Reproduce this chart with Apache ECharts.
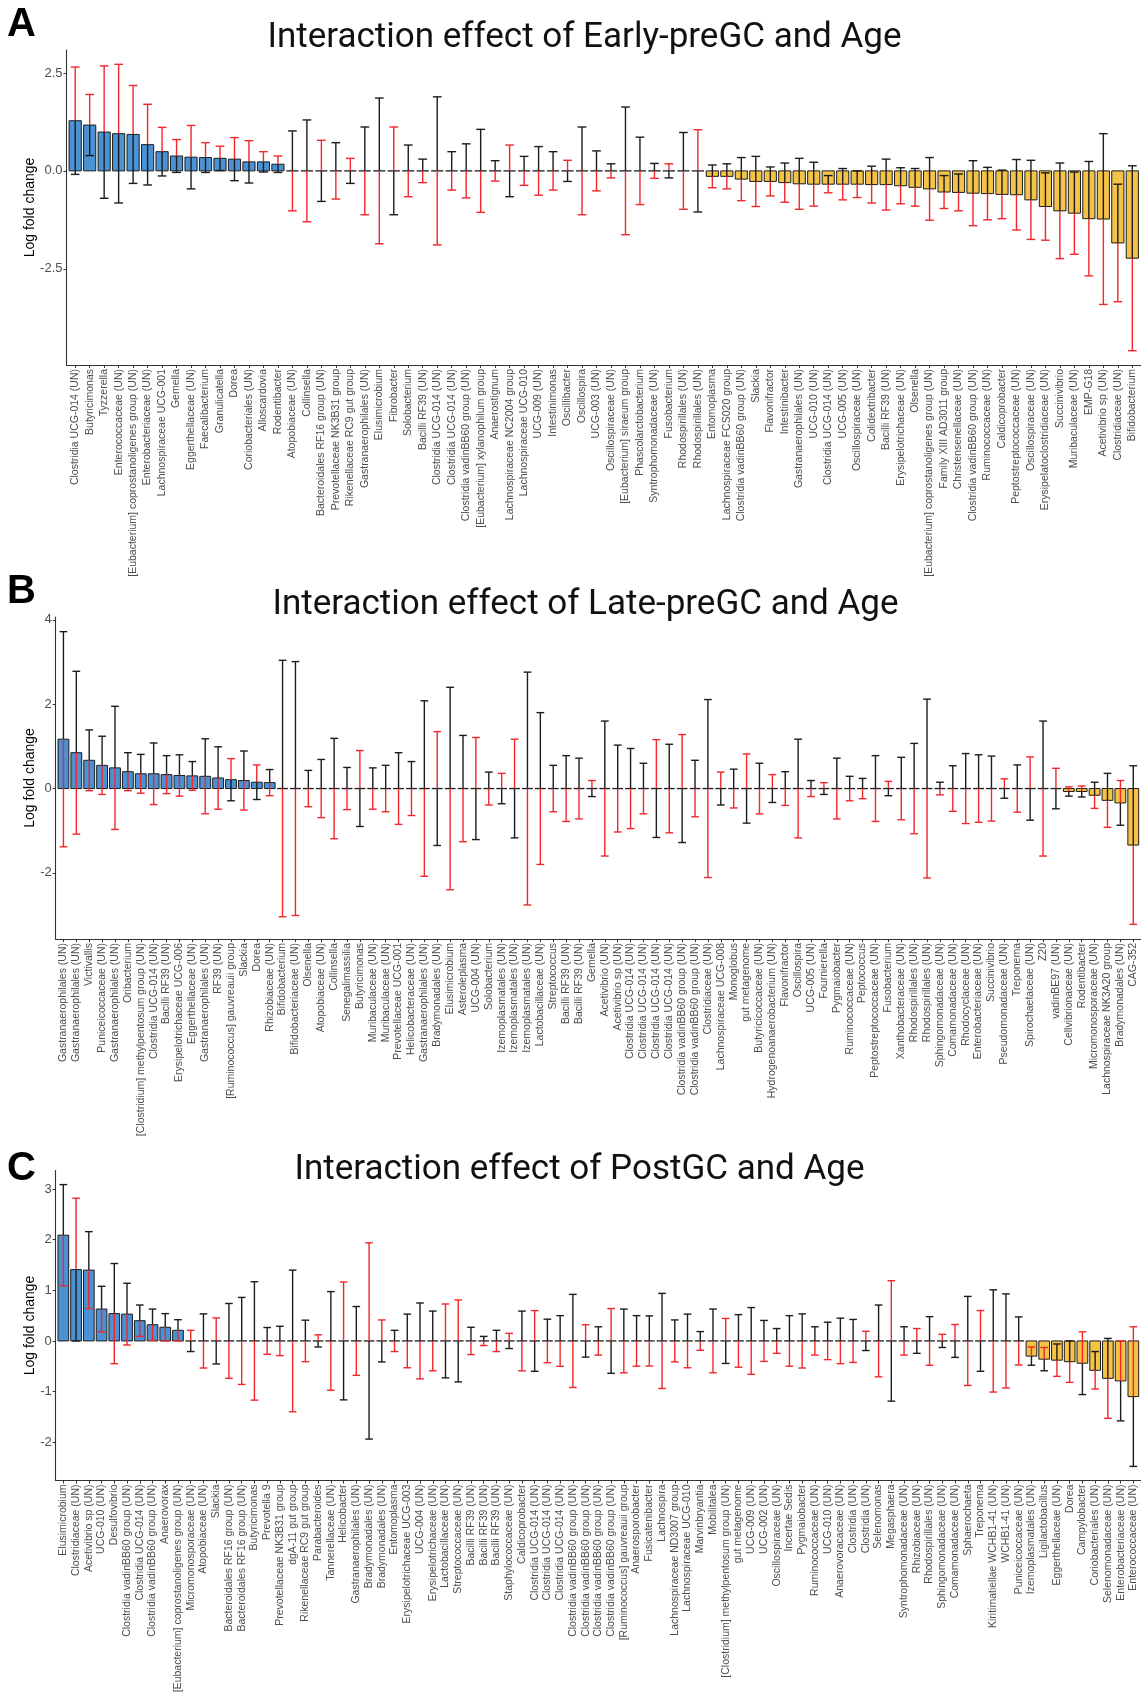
<!DOCTYPE html>
<html>
<head>
<meta charset="utf-8">
<script src="https://cdn.jsdelivr.net/npm/echarts@6/dist/echarts.min.js"></script>
<style>
  html, body { margin: 0; padding: 0; background: #ffffff; }
  #chart { width: 1141px; height: 1706px; }
</style>
</head>
<body>
<div id="chart"></div>
<script>
// ---------- Panel A: Early-preGC x Age ----------
const namesA = ["Clostridia UCG-014 (UN)","Butyricimonas","Tyzzerella","Enterococcaceae (UN)","[Eubacterium] coprostanoligenes group (UN)","Enterobacteriaceae (UN)","Lachnospiraceae UCG-001","Gemella","Eggerthellaceae (UN)","Faecalibacterium","Granulicatella","Dorea","Coriobacteriales (UN)","Alloscardovia","Rodentibacter","Atopobiaceae (UN)","Collinsella","Bacteroidales RF16 group (UN)","Prevotellaceae NK3B31 group","Rikenellaceae RC9 gut group","Gastranaerophilales (UN)","Elusimicrobium","Fibrobacter","Solobacterium","Bacilli RF39 (UN)","Clostridia UCG-014 (UN)","Clostridia UCG-014 (UN)","Clostridia vadinBB60 group (UN)","[Eubacterium] xylanophilum group","Anaerostignum","Lachnospiraceae NC2004 group","Lachnospiraceae UCG-010","UCG-009 (UN)","Intestinimonas","Oscillibacter","Oscillospira","UCG-003 (UN)","Oscillospiraceae (UN)","[Eubacterium] siraeum group","Phascolarctobacterium","Syntrophomonadaceae (UN)","Fusobacterium","Rhodospirillales (UN)","Rhodospirillales (UN)","Entomoplasma","Lachnospiraceae FCS020 group","Clostridia vadinBB60 group (UN)","Slackia","Flavonifractor","Intestinibacter","Gastranaerophilales (UN)","UCG-010 (UN)","Clostridia UCG-014 (UN)","UCG-005 (UN)","Oscillospiraceae (UN)","Colidextribacter","Bacilli RF39 (UN)","Erysipelotrichaceae (UN)","Olsenella","[Eubacterium] coprostanoligenes group (UN)","Family XIII AD3011 group","Christensenellaceae (UN)","Clostridia vadinBB60 group (UN)","Ruminococcaceae (UN)","Caldicoprobacter","Peptostreptococcaceae (UN)","Oscillospiraceae (UN)","Erysipelatoclostridiaceae (UN)","Succinivibrio","Muribaculaceae (UN)","EMP-G18","Acetivibrio sp (UN)","Clostridiaceae (UN)","Bifidobacterium"];
const lfcA = [1.28,1.17,0.99,0.95,0.93,0.67,0.49,0.38,0.35,0.34,0.32,0.30,0.23,0.23,0.17,
  0,0,0,0,0,0,0,0,0,0, 0,0,0,0,0,0,0,0,0,0, 0,0,0,0,0,0,0,0,0,
  -0.14,-0.14,-0.21,-0.27,-0.27,-0.30,-0.33,-0.34,-0.34,-0.34,-0.34,-0.35,-0.35,-0.38,-0.42,
  -0.46,-0.54,-0.55,-0.57,-0.58,-0.60,-0.61,-0.74,-0.91,-1.02,-1.08,-1.22,-1.23,-1.84,-2.23];
const ciA = [1.37,0.78,1.69,1.77,1.25,1.03,0.62,0.42,0.81,0.38,0.31,0.55,0.54,0.26,0.21,
  1.02,1.30,0.78,0.72,0.32,1.12,1.86,1.12,0.66,0.30,1.89,0.49,0.69,1.06,0.26,0.66,0.37,0.62,0.49,0.27,1.12,0.51,0.18,1.63,0.86,0.19,0.18,0.98,1.05,
  0.29,0.32,0.55,0.64,0.37,0.50,0.65,0.56,0.22,0.40,0.34,0.47,0.65,0.46,0.48,0.80,0.42,0.47,0.83,0.67,0.62,0.90,1.01,0.86,1.22,1.05,1.46,2.18,1.50,2.36];
const upperRedA = [1,1,1,1,1,1,1,1,1,1,1,1,1,1,1,
  0,0,1,0,1,0,0,1,0,0,0,0,0,0,0,1,0,0,0,1,0,0,0,0,0,0,1,0,1,
  0,0,0,0,0,0,0,0,0,0,0,0,0,0,0,0,0,0,0,0,0,0,0,0,0,0,0,0,0,0];
const ticksA = [-2.5, 0, 2.5];

// ---------- Panel B: Late-preGC x Age ----------
const namesB = ["Gastranaerophilales (UN)","Gastranaerophilales (UN)","Victivallis","Puniceicoccaceae (UN)","Gastranaerophilales (UN)","Oribacterium","[Clostridium] methylpentosum group (UN)","Clostridia UCG-014 (UN)","Bacilli RF39 (UN)","Erysipelotrichaceae UCG-006","Eggerthellaceae (UN)","Gastranaerophilales (UN)","RF39 (UN)","[Ruminococcus] gauvreauii group","Slackia","Dorea","Rhizobiaceae (UN)","Bifidobacterium","Bifidobacteriaceae (UN)","Olsenella","Atopobiaceae (UN)","Collinsella","Senegalimassilia","Butyricimonas","Muribaculaceae (UN)","Muribaculaceae (UN)","Prevotellaceae UCG-001","Helicobacteraceae (UN)","Gastranaerophilales (UN)","Bradymonadales (UN)","Elusimicrobium","Asteroleplasma","UCG-004 (UN)","Solobacterium","Izemoplasmatales (UN)","Izemoplasmatales (UN)","Izemoplasmatales (UN)","Lactobacillaceae (UN)","Streptococcus","Bacilli RF39 (UN)","Bacilli RF39 (UN)","Gemella","Acetivibrio (UN)","Acetivibrio sp (UN)","Clostridia UCG-014 (UN)","Clostridia UCG-014 (UN)","Clostridia UCG-014 (UN)","Clostridia UCG-014 (UN)","Clostridia vadinBB60 group (UN)","Clostridia vadinBB60 group (UN)","Clostridiaceae (UN)","Lachnospiraceae UCG-008","Monoglobus","gut metagenome","Butyricicoccaceae (UN)","Hydrogenoanaerobacterium (UN)","Flavonifractor","Oscillospira","UCG-005 (UN)","Fournierella","Pygmaiobacter","Ruminococcaceae (UN)","Peptococcus","Peptostreptococcaceae (UN)","Fusobacterium","Xanthobacteraceae (UN)","Rhodospirillales (UN)","Rhodospirillales (UN)","Sphingomonadaceae (UN)","Comamonadaceae (UN)","Rhodocyclaceae (UN)","Enterobacteriaceae (UN)","Succinivibrio","Pseudomonadaceae (UN)","Treponema","Spirochaetaceae (UN)","Z20","vadinBE97 (UN)","Cellvibrionaceae (UN)","Rodentibacter","Micromonosporaceae (UN)","Lachnospiraceae NK3A20 group","Bradymonadales (UN)","CAG-352"];
const lfcB = [1.17,0.85,0.67,0.55,0.49,0.40,0.35,0.35,0.33,0.31,0.30,0.29,0.25,0.21,0.19,0.15,0.14,
  0,0,0,0,0,0,0,0,0,0, 0,0,0,0,0,0,0,0,0,0, 0,0,0,0,0,0,0,0,0,0,
  0,0,0,0,0,0,0,0,0,0, 0,0,0,0,0,0,0,0,0,0, 0,0,0,0,0,0,0,0,0,0, 0,
  -0.07,-0.07,-0.16,-0.28,-0.34,-1.34];
const ciB = [2.55,1.93,0.72,0.69,1.46,0.45,0.46,0.73,0.45,0.49,0.34,0.89,0.74,0.50,0.70,0.41,0.31,
  3.04,3.01,0.43,0.69,1.19,0.50,0.90,0.49,0.55,0.85,
  0.64,2.08,1.35,2.40,1.26,1.21,0.39,0.36,1.17,2.76,
  1.80,0.55,0.78,0.72,0.19,1.60,1.03,0.95,0.60,1.16,
  1.05,1.28,0.67,2.11,0.39,0.46,0.82,0.60,0.33,0.40,
  1.17,0.19,0.14,0.72,0.29,0.24,0.78,0.17,0.74,1.07,
  2.12,0.15,0.54,0.83,0.80,0.77,0.23,0.56,0.75,1.60,
  0.48,
  0.11,0.13,0.31,0.64,0.53,1.88];
const upperRedB = [0,0,0,0,0,0,0,0,0,0,0,0,0,1,0,1,0,
  0,0,0,0,0,0,1,0,0,0,
  0,0,1,0,0,1,0,1,1,0,
  0,0,0,0,1,0,0,0,0,1,
  0,1,0,0,1,0,1,0,1,0,
  0,0,1,0,0,0,0,1,0,0,
  0,0,0,0,0,0,1,0,1,0,
  1,
  1,1,0,0,1,0];
const ticksB = [-2, 0, 2, 4];

// ---------- Panel C: PostGC x Age ----------
const namesC = ["Elusimicrobium","Clostridiaceae (UN)","Acetivibrio sp (UN)","UCG-010 (UN)","Desulfovibrio","Clostridia vadinBB60 group (UN)","Clostridia UCG-014 (UN)","Clostridia vadinBB60 group (UN)","Anaerovorax","[Eubacterium] coprostanoligenes group (UN)","Micromonosporaceae (UN)","Atopobiaceae (UN)","Slackia","Bacteroidales RF16 group (UN)","Bacteroidales RF16 group (UN)","Butyricimonas","Prevotella 9","Prevotellaceae NK3B31 group","dgA-11 gut group","Rikenellaceae RC9 gut group","Parabacteroides","Tannerellaceae (UN)","Helicobacter","Gastranaerophilales (UN)","Bradymonadales (UN)","Bradymonadales (UN)","Entomoplasma","Erysipelotrichaceae UCG-003","UCG-004 (UN)","Erysipelotrichaceae (UN)","Lactobacillaceae (UN)","Streptococcaceae (UN)","Bacilli RF39 (UN)","Bacilli RF39 (UN)","Bacilli RF39 (UN)","Staphylococcaceae (UN)","Caldicoprobacter","Clostridia UCG-014 (UN)","Clostridia UCG-014 (UN)","Clostridia UCG-014 (UN)","Clostridia vadinBB60 group (UN)","Clostridia vadinBB60 group (UN)","Clostridia vadinBB60 group (UN)","Clostridia vadinBB60 group (UN)","[Ruminococcus] gauvreauii group","Anaerosporobacter","Fusicatenibacter","Lachnospira","Lachnospiraceae ND3007 group","Lachnospiraceae UCG-010","Marvinbryantia","Mobilitalea","[Clostridium] methylpentosum group (UN)","gut metagenome","UCG-009 (UN)","UCG-002 (UN)","Oscillospiraceae (UN)","Incertae Sedis","Pygmaiobacter","Ruminococcaceae (UN)","UCG-010 (UN)","Anaerovoracaceae (UN)","Clostridia (UN)","Clostridia (UN)","Selenomonas","Megasphaera","Syntrophomonadaceae (UN)","Rhizobiaceae (UN)","Rhodospirillales (UN)","Sphingomonadaceae (UN)","Comamonadaceae (UN)","Sphaerochaeta","Treponema","Kiritimatiellae WCHB1-41 (UN)","WCHB1-41 (UN)","Puniceicoccaceae (UN)","Izemoplasmatales (UN)","Ligilactobacillus","Eggerthellaceae (UN)","Dorea","Campylobacter","Coriobacteriales (UN)","Selenomonadaceae (UN)","Enterobacteriaceae (UN)","Enterococcaceae (UN)"];
const lfcC = [2.09,1.41,1.40,0.63,0.54,0.53,0.40,0.32,0.27,0.21,
  0,0,0,0,0,0,0,0,0,0, 0,0,0,0,0,0,0,0,0,0, 0,0,0,0,0,0,0,0,0,0,
  0,0,0,0,0,0,0,0,0,0, 0,0,0,0,0,0,0,0,0,0, 0,0,0,0,0,0,0,0,0,0,
  0,0,0,0,0,0,
  -0.30,-0.36,-0.38,-0.41,-0.44,-0.58,-0.74,-0.79,-1.10];
const ciC = [1.00,1.41,0.76,0.45,0.99,0.61,0.31,0.31,0.27,0.21,
  0.21,0.535,0.455,0.74,0.86,1.17,0.265,0.29,1.40,0.41,
  0.12,0.975,1.165,0.68,1.94,0.415,0.21,0.53,0.75,0.59,
  0.73,0.81,0.27,0.09,0.21,0.15,0.59,0.60,0.43,0.50,
  0.92,0.32,0.28,0.64,0.63,0.50,0.495,0.94,0.415,0.53,
  0.185,0.63,0.445,0.52,0.66,0.405,0.245,0.50,0.535,0.28,
  0.37,0.45,0.425,0.19,0.71,1.19,0.28,0.245,0.48,0.13,
  0.325,0.88,0.60,1.01,0.93,0.475,
  0.18,0.23,0.32,0.41,0.62,0.37,0.79,0.79,1.38];
const upperRedC = [0,1,0,0,0,0,0,0,0,0,
  1,0,1,0,0,0,0,0,0,0,
  1,0,1,0,1,1,0,0,0,0,
  1,1,0,0,0,1,0,1,0,0,
  0,1,0,1,0,0,0,0,0,0,
  0,0,1,0,0,0,0,0,0,0,
  0,0,0,1,0,1,0,1,0,1,
  1,0,1,0,0,0,
  1,1,0,0,1,0,0,1,1];
const ticksC = [-2, -1, 0, 1, 2, 3];

// ---------- styling ----------
const BLUE = '#4a92d4';
const GOLD = '#f3c247';
const RED = '#f2262b';
const INK = '#1c1c1c';
const AXIS = '#333333';
const LABEL_GREY = '#4d4d4d';

// y range: data extent of the intervals plus 5% padding on both ends
function yRange(vals, cis) {
  let lo = Infinity, hi = -Infinity;
  vals.forEach((v, i) => { lo = Math.min(lo, v - cis[i], 0); hi = Math.max(hi, v + cis[i], 0); });
  const pad = (hi - lo) * 0.05;
  return [lo - pad, hi + pad];
}

// one bar + a two-coloured interval (upper and lower whisker drawn separately)
function renderBar(params, api) {
  const i = api.value(0), v = api.value(1), e = api.value(2), upRed = api.value(3);
  const step = api.size([1, 0])[0];
  const bw = step * 0.84, cw = step * 0.6;
  const base = api.coord([i, 0]);
  const top = api.coord([i, v]);
  const hi = api.coord([i, v + e]);
  const lo = api.coord([i, v - e]);
  const x = base[0];
  const kids = [];
  if (v !== 0) {
    kids.push({ type: 'rect',
      shape: { x: x - bw / 2, y: Math.min(base[1], top[1]), width: bw, height: Math.abs(top[1] - base[1]) },
      style: { fill: v > 0 ? BLUE : GOLD, stroke: INK, lineWidth: 1 } });
  } else {
    kids.push({ type: 'line', shape: { x1: x - bw / 2, y1: base[1], x2: x + bw / 2, y2: base[1] },
      style: { stroke: INK, lineWidth: 1.3 } });
  }
  const cUp = upRed ? RED : INK, cDn = upRed ? INK : RED;
  const seg = (y1, y2, c) => ({ type: 'line', shape: { x1: x, y1: y1, x2: x, y2: y2 }, style: { stroke: c, lineWidth: 1.4 } });
  const cap = (y, c) => ({ type: 'line', shape: { x1: x - cw / 2, y1: y, x2: x + cw / 2, y2: y }, style: { stroke: c, lineWidth: 1.4 } });
  kids.push(seg(top[1], hi[1], cUp), cap(hi[1], cUp), seg(top[1], lo[1], cDn), cap(lo[1], cDn));
  return { type: 'group', children: kids };
}

const panels = [
  { names: namesA, vals: lfcA, cis: ciA, up: upperRedA, ticks: ticksA, fmt: v => v.toFixed(1),
    grid: { left: 66.5, right: 0, top: 50, height: 315 } },
  { names: namesB, vals: lfcB, cis: ciB, up: upperRedB, ticks: ticksB, fmt: v => String(v),
    grid: { left: 55.7, right: 0, top: 617, height: 322 } },
  { names: namesC, vals: lfcC, cis: ciC, up: upperRedC, ticks: ticksC, fmt: v => String(v),
    grid: { left: 55.7, right: 0, top: 1170.5, height: 310 } }
];

const grids = [], xAxes = [], yAxes = [], series = [];
panels.forEach((p, g) => {
  grids.push(p.grid);
  const idx = p.names.map((_, i) => i);
  xAxes.push({
    type: 'value', gridIndex: g, min: -0.6, max: p.names.length - 0.4,
    axisLine: { show: true, onZero: false, lineStyle: { color: AXIS, width: 1.1 } },
    axisTick: { show: true, customValues: idx, length: 3, lineStyle: { color: AXIS } },
    axisLabel: { customValues: idx, rotate: 90, margin: 4, fontSize: 10.5, color: LABEL_GREY,
      fontFamily: 'Liberation Sans', formatter: v => p.names[Math.round(v)] },
    splitLine: { show: false }
  });
  const r = yRange(p.vals, p.cis);
  yAxes.push({
    type: 'value', gridIndex: g, min: r[0], max: r[1],
    axisLine: { show: true, onZero: false, lineStyle: { color: AXIS, width: 1.1 } },
    axisTick: { show: true, customValues: p.ticks, length: 3, lineStyle: { color: AXIS } },
    axisLabel: { customValues: p.ticks, margin: 4, fontSize: 13, color: LABEL_GREY,
      fontFamily: 'Liberation Sans', formatter: p.fmt },
    splitLine: { show: false }
  });
  series.push({
    type: 'custom', xAxisIndex: g, yAxisIndex: g, clip: false,
    dimensions: ['idx', 'lfc', 'ci', 'upperRed'],
    encode: { x: 0, y: 1 },
    data: p.vals.map((v, i) => [i, v, p.cis[i], p.up[i]]),
    renderItem: renderBar
  });
});

function txt(x, y, text, size, opts) {
  return Object.assign({ type: 'text', x: x, y: y,
    style: Object.assign({ text: text, fontSize: size, fontFamily: 'Roboto', fill: '#111111',
      align: 'center', verticalAlign: 'middle' }, opts || {}) });
}
const bold = { fontFamily: 'Liberation Sans', fontWeight: 'bold', align: 'left', verticalAlign: 'top', fill: '#000000' };
const yName = (y) => Object.assign(txt(30.5, y, 'Log fold change', 14, { fontFamily: 'Liberation Sans', fill: '#000000' }), { rotation: Math.PI / 2 });

const graphic = [
  txt(7, 5, 'A', 40, bold),
  txt(7, 572, 'B', 40, bold),
  txt(7, 1149, 'C', 40, bold),
  txt(584.5, 38, 'Interaction effect of Early-preGC and Age', 35),
  txt(585.5, 605, 'Interaction effect of Late-preGC and Age', 35),
  txt(579.5, 1170, 'Interaction effect of PostGC and Age', 35),
  yName(207.5),
  yName(778),
  yName(1325.5)
];

const chart = echarts.init(document.getElementById('chart'), null, { renderer: 'canvas' });
chart.setOption({
  backgroundColor: '#ffffff',
  animation: false,
  grid: grids,
  xAxis: xAxes,
  yAxis: yAxes,
  series: series,
  graphic: graphic
});
</script>
</body>
</html>
